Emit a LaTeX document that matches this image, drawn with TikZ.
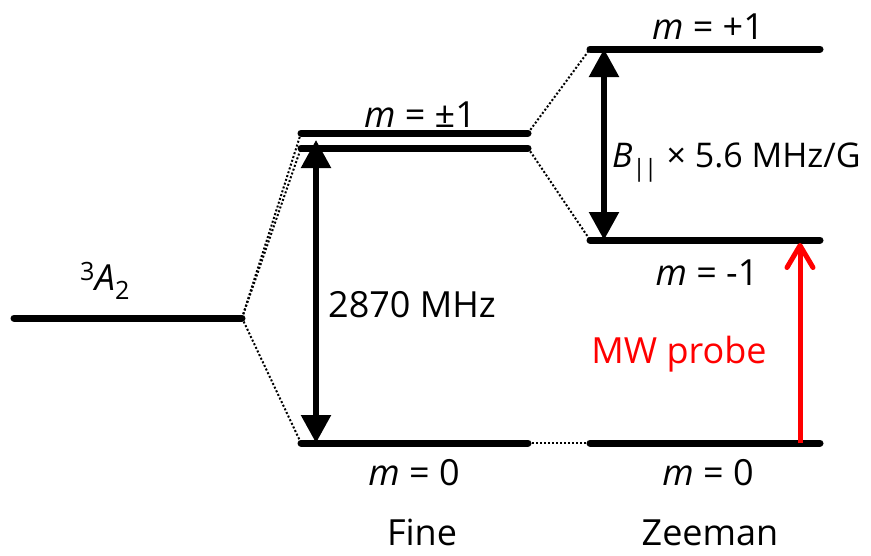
\documentclass[tikz,border=0pt]{standalone}
\usepackage{fontspec}
\setmainfont{Open Sans}
\usetikzlibrary{arrows.meta}
\begin{document}
\begin{tikzpicture}[x=1pt,y=-1pt,
  level/.style={line width=7pt,line cap=round},
  link/.style={dotted,line width=2pt},
  lbl/.style={font=\fontsize{36}{38}\selectfont,inner sep=0pt,anchor=base},
  bigarrow/.style={line width=5.5pt,{Triangle[width=29pt,length=28pt]}-{Triangle[width=29pt,length=28pt]}},
  probe/.style={red,line width=5pt,-{Straight Barb[round,width=26pt,length=22pt,line width=5pt]}}]
\useasboundingbox (0,0) rectangle (871,555);
% levels
\coordinate (gL) at (14,318); \coordinate (gR) at (242,318);
\coordinate (pa) at (301,133); \coordinate (pb) at (528,133);
\coordinate (qa) at (301,148); \coordinate (qb) at (528,148);
\coordinate (fa) at (301,443); \coordinate (fb) at (528,443);
\coordinate (za) at (590,49);  \coordinate (zb) at (820,49);
\coordinate (ma) at (590,240); \coordinate (mb) at (820,240);
\coordinate (na) at (590,443); \coordinate (nb) at (820,443);
\draw[level] (gL) -- (gR);
\draw[level] (pa) -- (pb);
\draw[level] (qa) -- (qb);
\draw[level] (fa) -- (fb);
\draw[level] (za) -- (zb);
\draw[level] (ma) -- (mb);
\draw[level] (na) -- (nb);
% dotted links
\draw[link] (gR) -- (pa);
\draw[link] (gR) -- (qa);
\draw[link] (gR) -- (fa);
\draw[link] (pb) -- (za);
\draw[link] (qb) -- (ma);
\draw[link] (fb) -- (na);
% arrows
\coordinate (a1t) at (316,140); \coordinate (a1b) at (316,443);
\draw[bigarrow] (a1t) -- (a1b);
\coordinate (a2t) at (604,49); \coordinate (a2b) at (604,240);
\draw[bigarrow] (a2t) -- (a2b);
\coordinate (rb) at (800,443); \coordinate (rt) at (800,243);
\draw[probe] (rb) -- (rt);
% labels
\node[lbl] (tA) at (105,290) {\textsuperscript{3}\textit{A}\textsubscript{2}};
\node[lbl] (tpm) at (420,127) {\textit{m} = ±1};
\node[lbl] (tf0) at (414,485) {\textit{m} = 0};
\node[lbl] (tp1) at (708,39) {\textit{m} = +1};
\node[lbl] (tm1) at (707,285) {\textit{m} = -1};
\node[lbl] (tz0) at (708,485) {\textit{m} = 0};
\node[lbl] (t2870) at (412,317) {2870 MHz};
\node[lbl,anchor=base west,font=\fontsize{34}{36}\selectfont] (tB) at (612,167) {\textit{B}\textsubscript{|\kern-1.5pt|} × 5.6 MHz/G};
\node[lbl,red] (tmw) at (679,363) {MW probe};
\node[lbl] (tfine) at (422,545) {Fine};
\node[lbl] (tzee) at (710,545) {Zeeman};
\end{tikzpicture}
\end{document}
